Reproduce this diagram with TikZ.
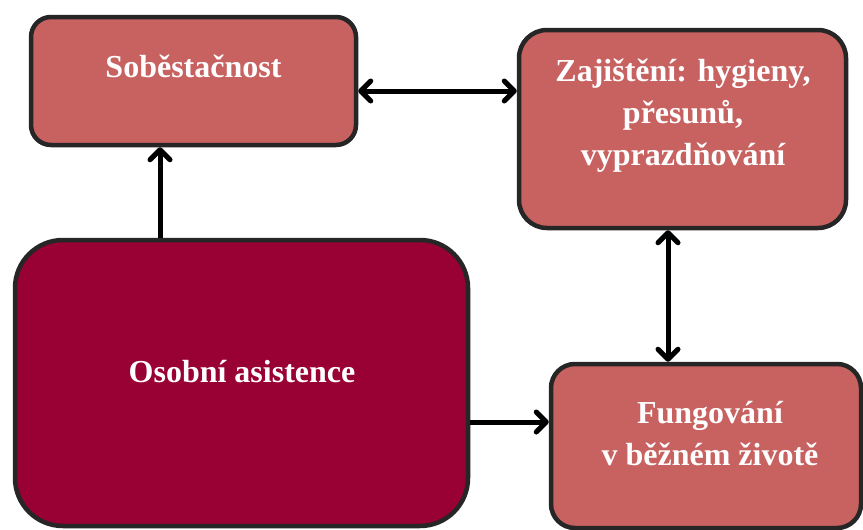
\documentclass[tikz,border=0pt]{standalone}
\usepackage{fontspec}
\setmainfont{Liberation Serif}
\usetikzlibrary{arrows.meta,shadows}
\definecolor{boxpink}{HTML}{C76261}
\definecolor{boxdark}{HTML}{990033}
\definecolor{boxline}{HTML}{262626}
\tikzset{
  box/.style={draw=boxline, line width=4.5pt, rectangle, inner sep=0pt,
    drop shadow={shadow xshift=-1.5pt, shadow yshift=-1.5pt, opacity=0.3, fill=black}},
  txt/.style={text=white, font=\bfseries\fontsize{32}{42}\selectfont, align=center, inner sep=0pt},
  tip/.style={},
  arr/.style={line width=5pt, draw=black, -{Straight Barb[length=10pt,width=20pt,line cap=round,line join=round]}},
  darr/.style={line width=5pt, draw=black, {Straight Barb[length=10pt,width=20pt,line cap=round,line join=round]}-{Straight Barb[length=10pt,width=20pt,line cap=round,line join=round]}}
}
\begin{document}
\begin{tikzpicture}[x=1pt,y=-1pt]
\useasboundingbox (0,0) rectangle (863,530);
% boxes
\node[box, fill=boxpink, rounded corners=20pt, minimum width=325pt, minimum height=128pt] (b1) at (193.5,81) {};
\node[box, fill=boxpink, rounded corners=28pt, minimum width=327pt, minimum height=198pt] (b2) at (682.5,129) {};
\node[box, fill=boxdark, rounded corners=48pt, minimum width=453pt, minimum height=286pt] (b3) at (241.5,383) {};
\node[box, fill=boxpink, rounded corners=24pt, minimum width=310pt, minimum height=164pt] (b4) at (706,446) {};
% texts (base anchor = baseline of last line)
\node[txt, anchor=base] (t1) at (193.5,77) {Soběstačnost};
\node[txt, anchor=base] (t2) at (683,165) {Zajištění: hygieny,\\přesunů,\\vyprazdňování};
\node[txt, anchor=base] (t3) at (242,382) {Osobní asistence};
\node[txt, anchor=base] (t4) at (710,465) {Fungování\\v běžném životě};
% arrow positions
\coordinate (xa) at (160,0);
\coordinate (ya) at (0,91);
\coordinate (xb) at (668,0);
\coordinate (yb) at (0,422);
% connectors
\draw[arr] (b3.north -| xa) -- (b1.south -| xa);
\draw[darr] (b1.east |- ya) -- (b2.west |- ya);
\draw[darr] (b2.south -| xb) -- (b4.north -| xb);
\draw[arr] (b3.east |- yb) -- (b4.west |- yb);
\end{tikzpicture}
\end{document}
